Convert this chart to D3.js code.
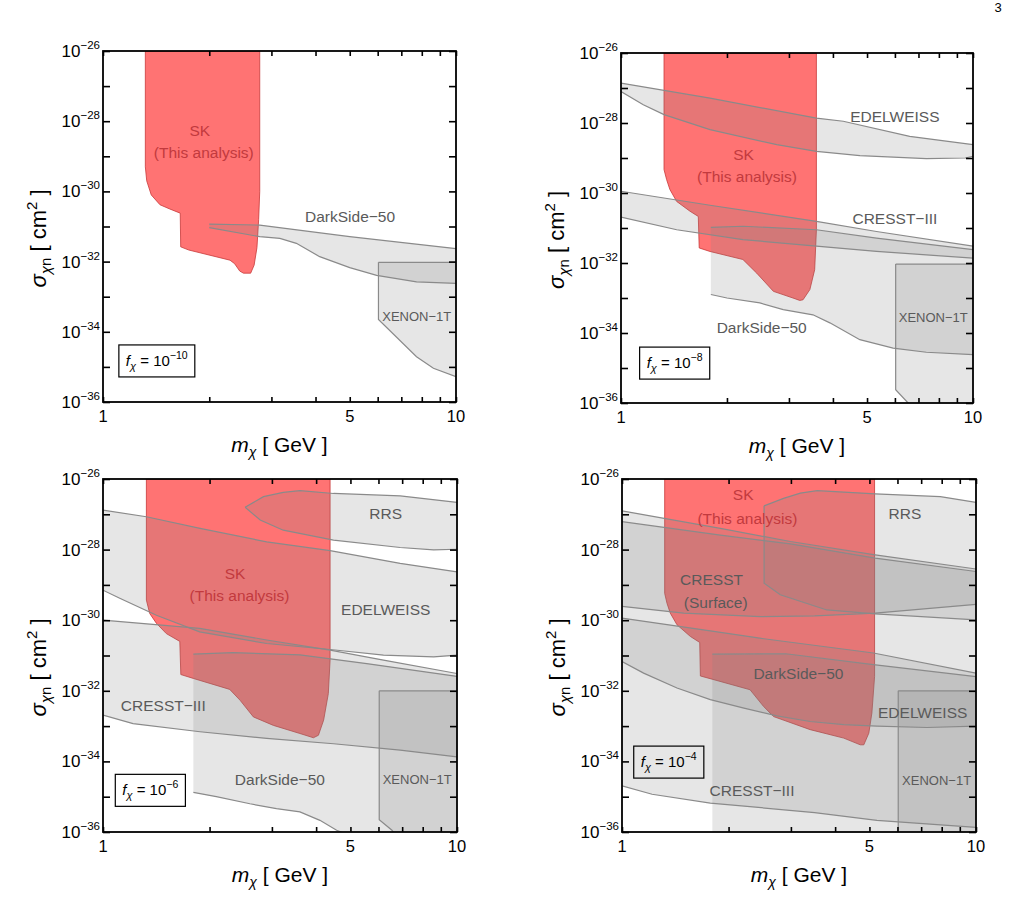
<!DOCTYPE html>
<html><head><meta charset="utf-8">
<script src="https://cdn.jsdelivr.net/npm/d3@7"></script>
<style>body{margin:0;background:#fff} text{font-family:"Liberation Sans",Arial,Helvetica,sans-serif}</style>
</head><body>
<svg id="c" width="1024" height="906"></svg>
<script>
// ---------------- DATA (mass in GeV, cross-section as log10 exponent) ----------------
const fExponents = [-10, -8, -6, -4];
const xTicks = [1, 2, 3, 4, 5, 6, 7, 8, 9, 10];
const xTickLabels = ["1", "5", "10"];
const xTickLabelValues = [1, 5, 10];
const yDecades = [-36, -35, -34, -33, -32, -31, -30, -29, -28, -27, -26];
const yLabelExps = [-36, -34, -32, -30, -28, -26];

// Panel 1 : f = 1e-10
const skP1 = [[1.318,-26],[1.318,-29.3],[1.33,-29.7],[1.37,-30.1],[1.45,-30.38],[1.545,-30.5],[1.655,-30.62],[1.66,-31.58],[1.75,-31.67],[2.29,-31.96],[2.36,-32.06],[2.44,-32.27],[2.50,-32.33],[2.62,-32.33],[2.68,-32.1],[2.73,-31.6],[2.76,-30.8],[2.78,-30.0],[2.78,-26]];
const dsUpperP1 = [[2.0,-30.93],[2.78,-30.96],[5.0,-31.29],[10,-31.63]];
const dsLowerP1 = [[2.0,-31.03],[2.78,-31.29],[3.17,-31.34],[3.53,-31.48],[4.11,-31.86],[5.0,-32.17],[5.96,-32.39],[7.73,-32.58],[10,-32.62]];
const xenonUpperP1 = [[6.03,-32.02],[10,-32.02]];
const xenonLowerP1 = [[6.03,-32.02],[6.03,-33.65],[7.73,-34.71],[8.63,-35.04],[10,-35.28]];

// Panel 2 : f = 1e-8
const skP2 = [[1.325,-26],[1.325,-29.33],[1.348,-29.62],[1.377,-29.9],[1.439,-30.24],[1.57,-30.52],[1.658,-30.67],[1.668,-31.57],[1.789,-31.67],[2.22,-31.9],[2.43,-32.29],[2.71,-32.81],[3.08,-33.0],[3.22,-33.07],[3.29,-33.05],[3.44,-32.76],[3.55,-32.19],[3.59,-31.05],[3.59,-26]];
const edelUpperP2 = [[1,-26.86],[1.79,-27.29],[3.59,-27.86],[4.28,-27.95],[6.61,-28.38],[10,-28.62]];
const edelLowerP2 = [[1,-27.1],[1.157,-27.48],[1.325,-27.76],[1.79,-28.19],[2.77,-28.62],[3.59,-28.81],[4.77,-28.93],[7.37,-29.02],[9.5,-29.0],[10,-28.95]];
const cresstUpperP2 = [[1,-29.95],[1.79,-30.35],[3.59,-30.81],[5.32,-31.1],[10,-31.52]];
const cresstLowerP2 = [[1,-30.69],[1.44,-31.05],[2.22,-31.33],[3.59,-31.52],[5.32,-31.67],[10,-31.86]];
const dsUpperP2 = [[1.80,-30.98],[2.22,-30.95],[3.59,-31.05],[5.32,-31.29],[10,-31.62]];
const dsLowerP2 = [[1.80,-32.9],[2.0,-33.0],[2.48,-33.14],[2.89,-33.33],[3.51,-33.48],[3.92,-33.71],[4.77,-34.19],[5.93,-34.43],[7.37,-34.55],[10,-34.62]];
const xenonUpperP2 = [[6.03,-32.03],[10,-32.03]];
const xenonLowerP2 = [[6.03,-32.03],[6.03,-35.62],[6.54,-36.0],[7.2,-36.5],[10,-36.5]];

// Panel 3 : f = 1e-6
const skP3 = [[1.326,-26],[1.326,-29.43],[1.355,-29.81],[1.416,-30.09],[1.51,-30.38],[1.648,-30.6],[1.659,-31.54],[1.80,-31.65],[2.28,-31.96],[2.44,-32.27],[2.66,-32.74],[3.03,-32.98],[3.60,-33.21],[3.93,-33.33],[4.06,-33.26],[4.20,-32.83],[4.33,-32.08],[4.38,-31.13],[4.38,-26]];
const rrsUpperP3 = [[2.52,-26.8],[2.84,-26.5],[3.23,-26.38],[3.60,-26.33],[4.48,-26.41],[6.91,-26.48],[10,-26.66]];
const rrsLowerP3 = [[2.52,-26.8],[2.78,-27.16],[3.23,-27.45],[4.48,-27.73],[6.91,-27.94],[8.59,-28.01],[10,-27.99]];
const edelUpperP3 = [[1,-26.88],[1.326,-27.07],[1.88,-27.4],[2.90,-27.78],[4.38,-28.03],[6.91,-28.39],[10,-28.63]];
const edelLowerP3 = [[1,-29.15],[1.115,-29.38],[1.416,-29.86],[1.875,-30.33],[2.9,-30.66],[4.38,-30.83],[6.2,-30.99],[8.59,-31.04],[10,-30.99]];
const cresstUpperP3 = [[1,-30.0],[1.875,-30.23],[2.9,-30.56],[4.38,-30.85],[6.2,-31.13],[10,-31.51]];
const cresstLowerP3 = [[1,-32.69],[1.216,-32.93],[1.88,-33.16],[2.90,-33.35],[4.48,-33.5],[6.91,-33.68],[10,-33.87]];
const dsUpperP3 = [[1.80,-30.96],[2.33,-30.92],[3.60,-30.98],[5.56,-31.23],[10,-31.59]];
const dsLowerP3 = [[1.80,-34.88],[2.09,-35.0],[2.60,-35.2],[3.09,-35.34],[3.60,-35.43],[4.10,-35.67],[4.57,-35.95],[5.93,-36.4],[10,-36.6]];
const xenonUpperP3 = [[6.03,-32.0],[10,-32.0]];
const xenonLowerP3 = [[6.03,-32.0],[6.03,-35.65],[6.55,-35.95],[7.2,-36.5],[10,-36.5]];

// Panel 4 : f = 1e-4
const skP4 = [[1.32,-26],[1.32,-29.24],[1.34,-29.52],[1.369,-29.8],[1.43,-30.13],[1.56,-30.46],[1.658,-30.63],[1.665,-31.58],[1.796,-31.67],[2.30,-31.97],[2.51,-32.44],[2.68,-32.73],[3.40,-33.1],[4.23,-33.34],[4.71,-33.53],[4.82,-33.53],[4.98,-33.2],[5.08,-32.63],[5.17,-31.6],[5.17,-26]];
const rrsUpperP4 = [[2.52,-26.76],[2.86,-26.55],[3.19,-26.4],[3.56,-26.33],[5.19,-26.42],[7.93,-26.5],[10,-26.66]];
const rrsLowerP4 = [[2.52,-26.76],[2.52,-28.95],[2.80,-29.28],[3.79,-29.71],[5.19,-29.82],[10,-29.99]];
const edelUpperP4 = [[1,-26.9],[1.896,-27.4],[2.99,-27.77],[5.19,-28.15],[10,-28.55]];
const edelLowerP4 = [[1,-31.17],[1.151,-31.5],[1.43,-31.92],[1.776,-32.25],[2.21,-32.49],[2.74,-32.71],[3.40,-32.87],[4.23,-32.96],[5.25,-33.0],[7.27,-33.04],[10,-33.0]];
const csUpperP4 = [[1,-27.21],[1.896,-27.59],[2.99,-27.84],[5.19,-28.24],[10,-28.62]];
const csLowerP4 = [[1,-29.61],[1.493,-29.8],[2.46,-29.9],[3.5,-29.88],[5.19,-29.8],[10,-29.55]];
const cresstUpperP4 = [[1,-29.94],[1.776,-30.3],[2.45,-30.51],[5.13,-30.93],[10,-31.5]];
const cresstLowerP4 = [[1,-34.69],[1.216,-34.93],[1.776,-35.18],[3.5,-35.45],[5.25,-35.67],[10,-35.87]];
const dsUpperP4 = [[1.80,-30.96],[2.9,-30.95],[5.13,-31.26],[10,-31.6]];
const dsLowerP4 = [[1.80,-37],[10,-37]];
const xenonUpperP4 = [[6.03,-32.0],[10,-32.0]];
const xenonLowerP4 = [[6.03,-32.0],[6.03,-37],[10,-37]];

// Text labels: [text, mass, log10 sigma, kind]
const labelsP1 = [["SK",1.88,-28.25,"sk"],["(This analysis)",1.93,-28.9,"sk"],["DarkSide\u221250",5.01,-30.72,"g"],["XENON\u22121T",7.74,-33.55,"s"]];
const labelsP2 = [["EDELWEISS",6.0,-27.8,"g"],["SK",2.23,-28.89,"sk"],["(This analysis)",2.28,-29.53,"sk"],["CRESST\u2212III",6.0,-30.74,"g"],["DarkSide\u221250",2.51,-33.84,"g"],["XENON\u22121T",7.71,-33.55,"s"]];
const labelsP3 = [["RRS",6.29,-26.97,"g"],["SK",2.36,-28.67,"sk"],["(This analysis)",2.43,-29.31,"sk"],["EDELWEISS",6.29,-29.69,"g"],["CRESST\u2212III",1.48,-32.4,"g"],["DarkSide\u221250",3.16,-34.5,"g"],["XENON\u22121T",7.72,-34.5,"s"]];
const labelsP4 = [["SK",2.2,-26.45,"sk"],["(This analysis)",2.26,-27.11,"sk"],["RRS",6.3,-26.97,"g"],["CRESST",1.79,-28.84,"g"],["(Surface)",1.84,-29.5,"g"],["DarkSide\u221250",3.15,-31.5,"g"],["EDELWEISS",7.07,-32.61,"g"],["XENON\u22121T",7.74,-34.53,"s"],["CRESST\u2212III",2.33,-34.81,"g"]];
const fBoxPos = [[1.42,-34.83],[1.42,-34.86],[1.36,-34.82],[1.355,-34.02]];

// ---------------- LAYOUT / STYLE ----------------
const frames = [
  {x:103, y:51, w:353, h:351},
  {x:621, y:53, w:352, h:350},
  {x:103, y:479, w:354, h:353},
  {x:622, y:479, w:354, h:353}
];
const panels = [
  {sk: skP1, regions: [[dsUpperP1, dsLowerP1], [xenonUpperP1, xenonLowerP1]], labels: labelsP1},
  {sk: skP2, regions: [[edelUpperP2, edelLowerP2], [cresstUpperP2, cresstLowerP2], [dsUpperP2, dsLowerP2], [xenonUpperP2, xenonLowerP2]], labels: labelsP2},
  {sk: skP3, regions: [[rrsUpperP3, rrsLowerP3], [edelUpperP3, edelLowerP3], [cresstUpperP3, cresstLowerP3], [dsUpperP3, dsLowerP3], [xenonUpperP3, xenonLowerP3]], labels: labelsP3},
  {sk: skP4, regions: [[rrsUpperP4, rrsLowerP4], [edelUpperP4, edelLowerP4], [csUpperP4, csLowerP4], [cresstUpperP4, cresstLowerP4], [dsUpperP4, dsLowerP4], [xenonUpperP4, xenonLowerP4]], labels: labelsP4}
];
const RED_FILL = "#ff7373", RED_STROKE = "#c83838", RED_TEXT = "#c23a3e";
const GRAY_FILL = "rgb(128,128,128)", GRAY_OP = 0.2, GRAY_STROKE = "#8a8a8a", GRAY_TEXT = "#5a5a5a";

const svg = d3.select("#c");
svg.append("rect").attr("width",1024).attr("height",906).attr("fill","#fff");

// page number
svg.append("text").attr("x",998).attr("y",12).attr("font-size",13).attr("text-anchor","middle").text("3");

panels.forEach((p, i) => {
  const f = frames[i];
  const x = d3.scaleLog().domain([1, 10]).range([f.x, f.x + f.w]);
  const y = d3.scaleLog().domain([1e-36, 1e-26]).range([f.y + f.h, f.y]);
  const px = d => x(d[0]);
  const py = d => y(Math.pow(10, d[1]));
  const line = d3.line().x(px).y(py);
  const g = svg.append("g");
  const clipId = "clip" + i;
  g.append("clipPath").attr("id", clipId).append("rect").attr("x", f.x).attr("y", f.y).attr("width", f.w).attr("height", f.h);
  const plot = g.append("g").attr("clip-path", `url(#${clipId})`);

  // SK region
  plot.append("path").attr("d", line(p.sk) + "Z").attr("fill", RED_FILL).attr("stroke", RED_STROKE).attr("stroke-width", 0.8);

  // gray regions
  p.regions.forEach(([up, lo]) => {
    plot.append("path").attr("d", line(up.concat(lo.slice().reverse())) + "Z")
      .attr("fill", GRAY_FILL).attr("fill-opacity", GRAY_OP).attr("stroke", "none");
  });
  p.regions.forEach(([up, lo]) => {
    [up, lo].forEach(l => plot.append("path").attr("d", line(l)).attr("fill", "none")
      .attr("stroke", GRAY_STROKE).attr("stroke-width", 1.2));
  });

  // labels
  p.labels.forEach(([t, m, e, kind]) => {
    g.append("text").attr("x", x(m)).attr("y", y(Math.pow(10, e)))
      .attr("dy", "0.36em").attr("text-anchor", "middle")
      .attr("font-size", kind === "s" ? 13 : 15.5)
      .attr("fill", kind === "sk" ? RED_TEXT : GRAY_TEXT).text(t);
  });

  // f box
  const fb = fBoxPos[i];
  const ft = g.append("text").attr("x", x(fb[0])).attr("y", y(Math.pow(10, fb[1])) + 5)
    .attr("text-anchor", "middle").attr("font-size", 15).attr("fill", "#000");
  ft.append("tspan").attr("font-style", "italic").text("f");
  ft.append("tspan").attr("font-style", "italic").attr("font-size", 11).attr("dy", 4).text("\u03c7");
  ft.append("tspan").attr("dy", -4).text(" = 10");
  ft.append("tspan").attr("font-size", 10.5).attr("dy", -7).text("\u2212" + (-fExponents[i]));
  const bb = ft.node().getBBox();
  g.append("rect").attr("x", bb.x - 7).attr("y", y(Math.pow(10, fb[1])) - 16)
    .attr("width", bb.width + 14).attr("height", 32)
    .attr("fill", "none").attr("stroke", "#000").attr("stroke-width", 1.2);

  // ticks (inward) on four sides
  const axB = d3.axisBottom(x).tickValues(xTicks).tickSizeInner(-5).tickSizeOuter(0).tickFormat("");
  const axT = d3.axisTop(x).tickValues(xTicks).tickSizeInner(-5).tickSizeOuter(0).tickFormat("");
  const yVals = yDecades.map(e => Math.pow(10, e));
  const axL = d3.axisLeft(y).tickValues(yVals).tickSizeInner(-7).tickSizeOuter(0).tickFormat("");
  const axR = d3.axisRight(y).tickValues(yVals).tickSizeInner(-7).tickSizeOuter(0).tickFormat("");
  [[axB, `translate(0,${f.y + f.h})`], [axT, `translate(0,${f.y})`], [axL, `translate(${f.x},0)`], [axR, `translate(${f.x + f.w},0)`]]
    .forEach(([ax, tr]) => {
      const a = g.append("g").attr("transform", tr).call(ax);
      a.select(".domain").remove();
      a.selectAll("line").attr("stroke", "#000").attr("stroke-width", 1.6);
    });

  // frame
  g.append("rect").attr("x", f.x).attr("y", f.y).attr("width", f.w).attr("height", f.h)
    .attr("fill", "none").attr("stroke", "#000").attr("stroke-width", 1.8);

  // x tick labels
  xTickLabelValues.forEach((v, k) => {
    g.append("text").attr("x", x(v)).attr("y", f.y + f.h + 20).attr("text-anchor", "middle")
      .attr("font-size", 16.5).text(xTickLabels[k]);
  });
  // y tick labels
  yLabelExps.forEach(e => {
    const t = g.append("text").attr("x", f.x - 3).attr("y", y(Math.pow(10, e)) + 6)
      .attr("text-anchor", "end").attr("font-size", 17);
    t.append("tspan").text("10");
    t.append("tspan").attr("font-size", 11.5).attr("dy", -8).text("\u2212" + (-e));
  });

  // axis titles
  const xl = g.append("text").attr("x", f.x + f.w / 2).attr("y", f.y + f.h + 50)
    .attr("text-anchor", "middle").attr("font-size", 21).attr("xml:space", "preserve");
  xl.append("tspan").attr("font-style", "italic").text("m");
  xl.append("tspan").attr("font-style", "italic").attr("font-size", 14).attr("dy", 5).text("\u03c7");
  xl.append("tspan").attr("dy", -5).text(" [ GeV ]");

  const yl = g.append("text").attr("transform", `translate(${f.x - 57},${f.y + f.h / 2 + 12}) rotate(-90)`)
    .attr("text-anchor", "middle").attr("font-size", 22).attr("xml:space", "preserve");
  yl.append("tspan").attr("font-style", "italic").text("\u03c3");
  yl.append("tspan").attr("font-style", "italic").attr("font-size", 15).attr("dy", 5).text("\u03c7");
  yl.append("tspan").attr("font-size", 15).text("n");
  yl.append("tspan").attr("dy", -5).text(" [ cm");
  yl.append("tspan").attr("font-size", 15).attr("dy", -9).text("2");
  yl.append("tspan").attr("dy", 9).text(" ]");
});
</script>
</body></html>
